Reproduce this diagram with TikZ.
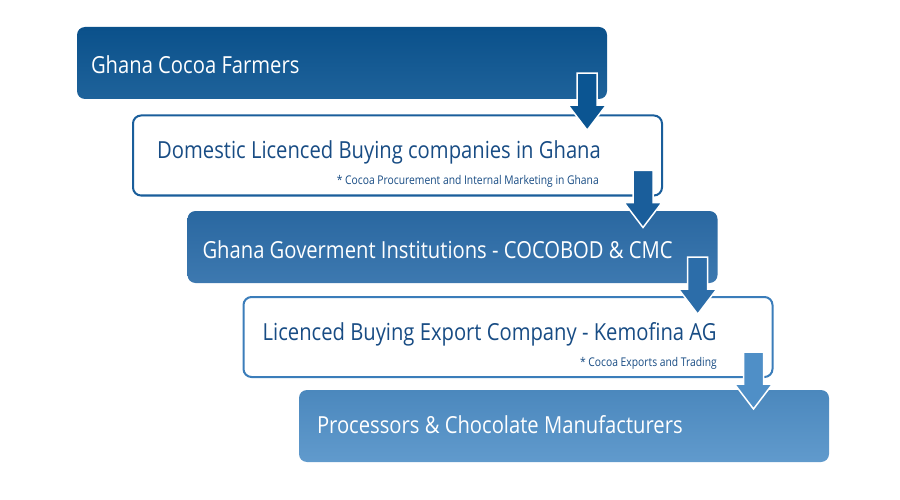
\documentclass[tikz,border=0pt]{standalone}
\usepackage{fontspec}
\setmainfont{Open Sans}[FakeStretch=0.86]
\usetikzlibrary{calc}
\definecolor{farmblue}{HTML}{0B5592}
\definecolor{lbcblue}{HTML}{1A5E9B}
\definecolor{govblue}{HTML}{2C6DA9}
\definecolor{expblue}{HTML}{3B7DBA}
\definecolor{procblue}{HTML}{4F8FC7}
\definecolor{darktext}{HTML}{184C84}
\tikzset{
	fullbox/.style={rounded corners=8pt, minimum width=530pt, minimum height=72pt, inner sep=0pt},
	linebox/.style={rounded corners=8pt, minimum width=529pt, minimum height=80pt, inner sep=0pt, fill=white, line width=2pt},
	bigtext/.style={anchor=west, inner sep=0pt, font=\fontsize{23.5}{28}\selectfont},
	smalltext/.style={anchor=east, inner sep=0pt, font=\fontsize{12}{14}\selectfont, text=darktext},
	blockarrow/.style={draw=white, line width=1.5pt, line join=miter}
}
\begin{document}
\begin{tikzpicture}[x=1pt,y=-1pt]
	\useasboundingbox (0,0) rectangle (900,500);
	\node[fullbox, top color=farmblue!95!black, bottom color=farmblue!92!white] (b1) at (342,63) {};
	\node[linebox, draw=lbcblue] (b2) at (397.5,155.5) {};
	\node[fullbox, top color=govblue!95!black, bottom color=govblue!92!white] (b3) at (452.5,247) {};
	\node[linebox, draw=expblue] (b4) at (508,337) {};
	\node[fullbox, top color=procblue!95!black, bottom color=procblue!90!white] (b5) at (564,426) {};
	\node[bigtext, text=white] (t1) at ($(b1.west)+(14,1.5)$) {Ghana Cocoa Farmers};
	\node[bigtext, text=darktext] (t2) at ($(b2.west)+(25,-2.7)$) {Domestic Licenced Buying companies in Ghana};
	\node[smalltext] (n2) at ($(b2.east)+(-64,25.5)$) {* Cocoa Procurement and Internal Marketing in Ghana};
	\node[bigtext, text=white] (t3) at ($(b3.west)+(15,2.5)$) {Ghana Goverment Institutions - COCOBOD \& CMC};
	\node[bigtext, text=darktext] (t4) at ($(b4.west)+(20,-2.2)$) {Licenced Buying Export Company - Kemofina AG};
	\node[smalltext] (n4) at ($(b4.east)+(-56.5,26.5)$) {* Cocoa Exports and Trading};
	\node[bigtext, text=white] (t5) at ($(b5.west)+(18,-1)$) {Processors \& Chocolate Manufacturers};
	\foreach \i/\c in {1/farmblue,2/lbcblue,3/govblue,4/procblue}{
		\draw[blockarrow, fill=\c] ($(b\i.south east)+(-30,-26)$) -- ($(b\i.south east)+(-10,-26)$)
			-- ($(b\i.south east)+(-10,6)$) -- ($(b\i.south east)+(-1,6)$) -- ($(b\i.south east)+(-20,31)$)
			-- ($(b\i.south east)+(-39,6)$) -- ($(b\i.south east)+(-30,6)$) -- cycle;
	}
\end{tikzpicture}
\end{document}
